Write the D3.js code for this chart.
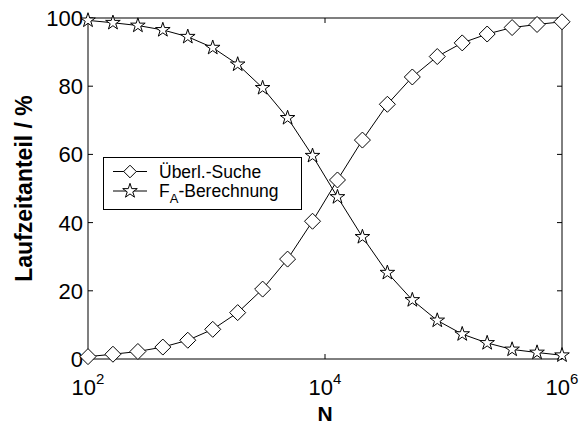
<!DOCTYPE html>
<html><head><meta charset="utf-8">
<script src="https://cdn.jsdelivr.net/npm/d3@7"></script>
<style>body{margin:0;background:#fff}svg{display:block}text{font-family:"Liberation Sans",Arial,sans-serif}</style>
</head><body>
<script>
const nExp = d3.range(20).map(i => 2 + 4 * i / 19);
const N = nExp.map(e => Math.pow(10, e));
const suche = [0.7, 1.4, 2.2, 3.5, 5.5, 8.7, 13.6, 20.5, 29.3, 40.4, 52.5, 64.2, 74.7, 82.7, 88.7, 92.7, 95.3, 97.2, 98.1, 98.9];
const berechnung = [99.3, 98.6, 97.8, 96.5, 94.5, 91.3, 86.4, 79.5, 70.7, 59.6, 47.5, 35.8, 25.3, 17.3, 11.3, 7.3, 4.7, 2.8, 1.9, 1.1];
const yTicks = [0, 20, 40, 60, 80, 100];
const xTicks = [1e2, 1e4, 1e6];
const xTickExp = ["2", "4", "6"];

const W = 581, H = 427;
const m = {left: 88, right: 19, top: 18, bottom: 68};
const svg = d3.select("body").append("svg").attr("width", W).attr("height", H);
const x = d3.scaleLog().domain([1e2, 1e6]).range([m.left, W - m.right]);
const y = d3.scaleLinear().domain([0, 100]).range([H - m.bottom, m.top]);

svg.append("rect").attr("x", x(1e2)).attr("y", y(100)).attr("width", x(1e6) - x(1e2)).attr("height", y(0) - y(100))
  .attr("fill", "none").attr("stroke", "#000").attr("stroke-width", 1);

const tl = 5;
yTicks.forEach(t => {
  svg.append("line").attr("x1", x(1e2)).attr("x2", x(1e2) + tl).attr("y1", y(t)).attr("y2", y(t)).attr("stroke", "#000");
  svg.append("line").attr("x1", x(1e6)).attr("x2", x(1e6) - tl).attr("y1", y(t)).attr("y2", y(t)).attr("stroke", "#000");
  svg.append("text").attr("x", x(1e2) - 5).attr("y", y(t)).attr("dy", "0.36em").attr("text-anchor", "end")
    .attr("font-size", 22).text(t);
});
xTicks.forEach((t, i) => {
  svg.append("line").attr("x1", x(t)).attr("x2", x(t)).attr("y1", y(0)).attr("y2", y(0) - tl).attr("stroke", "#000");
  svg.append("line").attr("x1", x(t)).attr("x2", x(t)).attr("y1", y(100)).attr("y2", y(100) + tl).attr("stroke", "#000");
  const tx = svg.append("text").attr("x", x(t)).attr("y", 395).attr("text-anchor", "middle").attr("font-size", 22);
  tx.append("tspan").text("10");
  tx.append("tspan").attr("font-size", 15).attr("dy", -11).text(xTickExp[i]);
});

svg.append("text").attr("x", x(1e4)).attr("y", 421).attr("text-anchor", "middle").attr("font-size", 21)
  .attr("font-weight", "bold").text("N");
svg.append("text").attr("transform", `translate(32,${(y(0) + y(100)) / 2}) rotate(-90)`).attr("text-anchor", "middle")
  .attr("font-size", 23).attr("font-weight", "bold").text("Laufzeitanteil / %");

const line = d3.line().x(d => x(d[0])).y(d => y(d[1]));
const diamond = s => `M0,${-s}L${s},0L0,${s}L${-s},0Z`;
const star = d3.symbol().type(d3.symbolStar).size(66);

const sData = N.map((n, i) => [n, suche[i]]);
const bData = N.map((n, i) => [n, berechnung[i]]);

svg.append("path").attr("d", line(sData)).attr("fill", "none").attr("stroke", "#000").attr("stroke-width", 1);
svg.append("path").attr("d", line(bData)).attr("fill", "none").attr("stroke", "#000").attr("stroke-width", 1);

svg.selectAll(".dia").data(sData).enter().append("path")
  .attr("transform", d => `translate(${x(d[0])},${y(d[1])})`).attr("d", diamond(8))
  .attr("fill", "#fff").attr("stroke", "#000").attr("stroke-width", 1);
svg.selectAll(".star").data(bData).enter().append("path")
  .attr("transform", d => `translate(${x(d[0])},${y(d[1])})`).attr("d", star())
  .attr("fill", "#fff").attr("stroke", "#000").attr("stroke-width", 1);

// legend
const lg = svg.append("g");
lg.append("rect").attr("x", 103.5).attr("y", 157.5).attr("width", 198).attr("height", 52)
  .attr("fill", "#fff").attr("stroke", "#000").attr("stroke-width", 1);
const rows = [171.5, 191];
lg.append("line").attr("x1", 113).attr("x2", 147).attr("y1", rows[0]).attr("y2", rows[0]).attr("stroke", "#000");
lg.append("path").attr("transform", `translate(130,${rows[0]})`).attr("d", diamond(6.3)).attr("fill", "#fff").attr("stroke", "#000");
lg.append("line").attr("x1", 113).attr("x2", 147).attr("y1", rows[1]).attr("y2", rows[1]).attr("stroke", "#000");
lg.append("path").attr("transform", `translate(130,${rows[1]})`).attr("d", star()).attr("fill", "#fff").attr("stroke", "#000");
lg.append("text").attr("x", 159).attr("y", rows[0]).attr("dy", "0.36em").attr("font-size", 17.5).text("Überl.-Suche");
const t2 = lg.append("text").attr("x", 159).attr("y", rows[1]).attr("dy", "0.36em").attr("font-size", 17.5);
t2.append("tspan").text("F");
t2.append("tspan").attr("font-size", 13).attr("dy", 6).text("A");
t2.append("tspan").attr("dy", -6).text("-Berechnung");
</script>
</body></html>
